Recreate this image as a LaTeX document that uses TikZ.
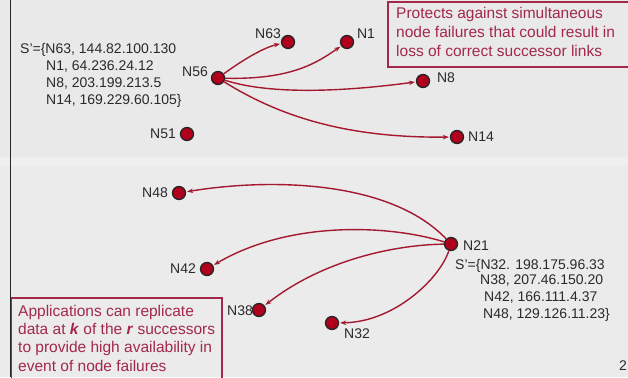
\documentclass[tikz,border=0pt]{standalone}
\usepackage{fontspec}
\setmainfont{Liberation Sans}
\usetikzlibrary{arrows.meta}
\definecolor{bgtop}{HTML}{E9E9E9}
\definecolor{bgband}{HTML}{EFEFEF}
\definecolor{bgmain}{HTML}{EBEBEB}
\definecolor{nodered}{HTML}{B0001C}
\definecolor{linkred}{HTML}{A3192F}
\definecolor{notered}{HTML}{A3284A}
\definecolor{labelgray}{HTML}{2A2A2A}
\tikzset{
  peer/.style={circle, draw=black!85, line width=1.3pt, fill=nodered,
    minimum size=13pt, inner sep=0pt},
  tag/.style={font=\fontsize{14}{16}\selectfont, text=labelgray, inner sep=0pt},
  listline/.style={font=\fontsize{14}{16}\selectfont, text=labelgray,
    inner sep=0pt, anchor=base west},
  noteline/.style={font=\fontsize{15.5}{18}\selectfont, text=notered,
    inner sep=0pt, anchor=base west},
  notebox/.style={draw=notered, line width=1.6pt},
  link/.style={draw=linkred, line width=1.4pt,
    -{Stealth[length=6pt,width=4.5pt]}, shorten >=1pt},
}
\begin{document}
\begin{tikzpicture}[x=1pt, y=-1pt]
\useasboundingbox (0,0) rectangle (628,377);
% background
\fill[bgmain] (0,0) rectangle (628,377);
\fill[bgtop] (0,0) rectangle (628,157);
\fill[bgband] (0,157) rectangle (628,166);
\draw[black!85, line width=1.5pt] (10.5,0) -- (10.5,377);

% ring members
\node[peer] (n56) at (218,78) {};
\node[peer] (n63) at (288,42) {};
\node[peer] (n1)  at (347,42) {};
\node[peer] (n8)  at (423,81) {};
\node[peer] (n14) at (457,137) {};
\node[peer] (n51) at (187,134) {};
\node[peer] (n48) at (179,193) {};
\node[peer] (n42) at (207,269) {};
\node[peer] (n38) at (259,310) {};
\node[peer] (n21) at (451,244) {};
\node[peer] (n32) at (332,323) {};

% member labels
\node[tag] (l56) at (195,72) {N56};
\node[tag] (l63) at (268,34) {N63};
\node[tag] (l1)  at (366,34) {N1};
\node[tag] (l8)  at (446,78) {N8};
\node[tag] (l14) at (481,137) {N14};
\node[tag] (l51) at (163,134) {N51};
\node[tag] (l48) at (155,193) {N48};
\node[tag] (l42) at (183,269) {N42};
\node[tag] (l38) at (240,311) {N38};
\node[tag] (l21) at (476,246) {N21};
\node[tag] (l32) at (357,334) {N32};

% successor list of N56
\node[listline] (sa1) at (20,54)   {S'=\{N63, 144.82.100.130};
\node[listline] (sa2) at (46,71)   {N1, 64.236.24.12};
\node[listline] (sa3) at (46,88)   {N8, 203.199.213.5};
\node[listline] (sa4) at (46,104)  {N14, 169.229.60.105\}};

% successor list of N21
\node[listline] (sb1) at (455,269) {S'=\{N32. 198.175.96.33};
\node[listline] (sb2) at (480,284) {N38, 207.46.150.20};
\node[listline] (sb3) at (484,301) {N42, 166.111.4.37};
\node[listline] (sb4) at (483,318) {N48, 129.126.11.23\}};

% successor pointers of N56
\draw[link] (n56) .. controls (240,62) and (262,48) .. (n63);
\draw[link] (n56) .. controls (292,80) and (318,62) .. (n1);
\draw[link] (n56) .. controls (280,98) and (370,88) .. (n8);
\draw[link] (n56) .. controls (282,118) and (350,138) .. (n14);

% successor pointers of N21
\draw[link] (n21) .. controls (390,180) and (270,178) .. (n48);
\draw[link] (n21) .. controls (390,225) and (290,220) .. (n42);
\draw[link] (n21) .. controls (390,245) and (320,262) .. (n38);
\draw[link] (n21) .. controls (440,278) and (395,322) .. (n32);

% notes
\draw[notebox] (388,2) rectangle (640,67);
\node[noteline] (ta) at (396,18.5) {Protects against simultaneous};
\node[noteline] (tb) at (396,37.5) {node failures that could result in};
\node[noteline] (tc) at (396,56.5) {loss of correct successor links};

\draw[notebox] (11.5,298) rectangle (222,390);
\node[noteline] (ba) at (18,316) {Applications can replicate};
\node[noteline] (bb) at (18,334) {data at \textbf{\textit{k}} of the \textbf{\textit{r}} successors};
\node[noteline] (bc) at (18,352.5) {to provide high availability in};
\node[noteline] (bd) at (18,371) {event of node failures};

% page number
\node[tag, anchor=east] (pg) at (627,366) {2};
\end{tikzpicture}
\end{document}
